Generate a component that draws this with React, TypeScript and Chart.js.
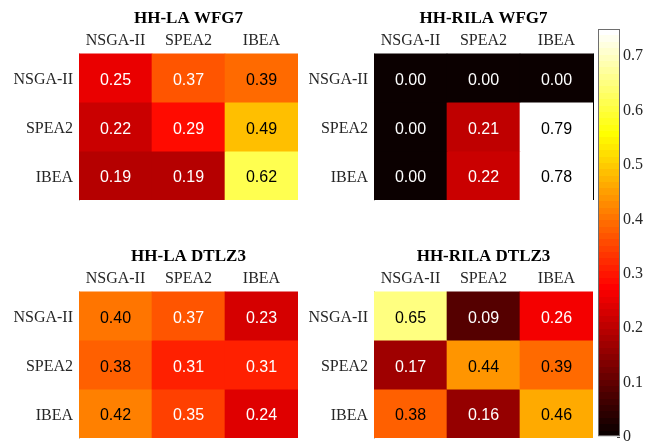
import React, { useEffect, useRef } from 'react';
import { Chart, registerables } from 'chart.js';

Chart.register(...registerables);

// ---------- data ----------
const methods = ['NSGA-II', 'SPEA2', 'IBEA'];
const colorbarTicks = [0, 0.1, 0.2, 0.3, 0.4, 0.5, 0.6, 0.7];
const colorMin = 0;
const colorMax = 0.75;

const laWfg7 = [
  [0.25, 0.37, 0.39],
  [0.22, 0.29, 0.49],
  [0.19, 0.19, 0.62],
];
const rilaWfg7 = [
  [0.0, 0.0, 0.0],
  [0.0, 0.21, 0.79],
  [0.0, 0.22, 0.78],
];
const laDtlz3 = [
  [0.4, 0.37, 0.23],
  [0.38, 0.31, 0.31],
  [0.42, 0.35, 0.24],
];
const rilaDtlz3 = [
  [0.65, 0.09, 0.26],
  [0.17, 0.44, 0.39],
  [0.38, 0.16, 0.46],
];

// ---------- colormap (MATLAB hot, 64 levels) ----------
const LEVELS = 64;
function hotIndex(i: number): string {
  const r = Math.min(1, (i + 1) / 24);
  const g = Math.max(0, Math.min(1, (i + 1 - 24) / 24));
  const b = Math.max(0, Math.min(1, (i + 1 - 48) / 16));
  return `rgb(${Math.round(r * 255)},${Math.round(g * 255)},${Math.round(b * 255)})`;
}
function hot(v: number): string {
  let i = Math.floor(((v - colorMin) / (colorMax - colorMin)) * LEVELS);
  i = Math.max(0, Math.min(LEVELS - 1, i));
  return hotIndex(i);
}

const SERIF = '"Liberation Serif", "Times New Roman", serif';
const SANS = '"Liberation Sans", Arial, sans-serif';

const cellText = {
  id: 'cellText',
  afterDatasetsDraw(chart: any) {
    const ctx = chart.ctx;
    ctx.save();
    ctx.font = `16px ${SANS}`;
    ctx.textAlign = 'center';
    ctx.textBaseline = 'middle';
    chart.data.datasets.forEach((ds: any, d: number) => {
      const meta = chart.getDatasetMeta(d);
      meta.data.forEach((bar: any, i: number) => {
        const v = ds.cellValues[i];
        const p = bar.getCenterPoint();
        ctx.fillStyle = v < 0.375 ? '#ffffff' : '#000000';
        ctx.fillText(v.toFixed(2), p.x, p.y + 2.5);
      });
    });
    ctx.restore();
  },
};

const frame = {
  id: 'frame',
  afterDraw(chart: any, _args: any, opts: any) {
    if (!opts || !opts.right) return;
    const { ctx, chartArea } = chart;
    ctx.save();
    ctx.strokeStyle = '#000';
    ctx.lineWidth = 1;
    ctx.beginPath();
    ctx.moveTo(Math.round(chartArea.right) + 0.5, chartArea.top);
    ctx.lineTo(Math.round(chartArea.right) + 0.5, chartArea.bottom);
    ctx.stroke();
    ctx.restore();
  },
};

type HeatProps = {
  title: string;
  values: number[][];
  left: number;
  top: number;
  rightFrame?: boolean;
};

const HW = 305;
const HH = 205;

function Heatmap({ title, values, left, top, rightFrame }: HeatProps) {
  const ref = useRef<HTMLCanvasElement>(null);
  useEffect(() => {
    const datasets = values.map((row, r) => ({
      data: row.map(() => [r, r + 1]),
      backgroundColor: row.map((v) => hot(v)),
      cellValues: row,
      borderWidth: 0,
      barPercentage: 1,
      categoryPercentage: 1,
      grouped: false,
    }));
    const chart = new Chart(ref.current as HTMLCanvasElement, {
      type: 'bar',
      data: { labels: methods, datasets: datasets as any },
      options: {
        animation: false,
        responsive: false,
        maintainAspectRatio: false,
        events: [],
        layout: { padding: { left: 0, right: 7, top: 0, bottom: 5 } },
        plugins: {
          legend: { display: false },
          tooltip: { enabled: false },
          title: {
            display: true,
            text: title,
            fullSize: false,
            color: '#000',
            font: { family: SERIF, size: 17, weight: 'bold' },
            padding: { top: 8, bottom: 2 },
          },
          frame: { right: !!rightFrame },
        } as any,
        scales: {
          x: {
            type: 'category',
            position: 'top',
            grid: { display: false, drawTicks: false },
            border: { display: false },
            ticks: {
              color: '#262626',
              font: { family: SERIF, size: 16 },
              padding: 3,
              maxRotation: 0,
              autoSkip: false,
            },
            afterFit: (s: any) => {
              s.height = 23;
              s.paddingLeft = 0;
              s.paddingRight = 0;
            },
          },
          y: {
            type: 'linear',
            min: 0,
            max: 3,
            reverse: true,
            z: 1,
            grid: { display: false, drawTicks: false },
            border: { display: true, color: '#c8c8c8', width: 1 },
            afterBuildTicks: (s: any) => {
              s.ticks = methods.map((_, i) => ({ value: i + 0.55 }));
            },
            ticks: {
              color: '#262626',
              font: { family: SERIF, size: 16 },
              padding: 6,
              autoSkip: false,
              callback: (_v: any, i: number) => methods[i],
            },
            afterFit: (s: any) => {
              s.width = 79;
              s.paddingTop = 0;
              s.paddingBottom = 0;
            },
          },
        } as any,
      },
      plugins: [cellText, frame],
    });
    return () => chart.destroy();
  }, []);
  return (
    <canvas
      ref={ref}
      width={HW}
      height={HH}
      style={{ position: 'absolute', left, top, width: HW, height: HH }}
    />
  );
}

function Colorbar() {
  const ref = useRef<HTMLCanvasElement>(null);
  useEffect(() => {
    const chart = new Chart(ref.current as HTMLCanvasElement, {
      type: 'bar',
      data: {
        labels: [''],
        datasets: [
          {
            data: [[colorMin, colorMax]] as any,
            backgroundColor: (c: any) => {
              const ch = c.chart;
              const ys = ch.scales.y;
              if (!ch.chartArea || !ys) return '#fff';
              const g = ch.ctx.createLinearGradient(
                0,
                ys.getPixelForValue(colorMin),
                0,
                ys.getPixelForValue(colorMax)
              );
              for (let i = 0; i < LEVELS; i++) {
                const col = hotIndex(i);
                g.addColorStop(i / LEVELS, col);
                g.addColorStop((i + 1) / LEVELS, col);
              }
              return g;
            },
            borderColor: '#6e6e6e',
            borderWidth: 1,
            borderSkipped: false,
            barPercentage: 1,
            categoryPercentage: 1,
            inflateAmount: 0,
          } as any,
        ],
      },
      options: {
        animation: false,
        responsive: false,
        maintainAspectRatio: false,
        events: [],
        layout: { padding: { left: 38, right: 0, top: 29, bottom: 4 } },
        plugins: { legend: { display: false }, tooltip: { enabled: false } },
        scales: {
          x: { display: false },
          y: {
            position: 'right',
            min: colorMin,
            max: colorMax,
            grid: { drawOnChartArea: false, drawTicks: true, tickLength: -3, color: '#444' },
            border: { display: false },
            afterBuildTicks: (s: any) => {
              s.ticks = colorbarTicks.map((v) => ({ value: v }));
            },
            ticks: {
              color: '#262626',
              font: { family: SERIF, size: 16 },
              padding: 6,
              autoSkip: false,
              callback: (v: any) => (v === 0 ? '0' : Number(v).toFixed(1)),
            },
            afterFit: (s: any) => {
              s.width = 30;
              s.paddingTop = 0;
              s.paddingBottom = 0;
            },
          },
        } as any,
      },
    });
    return () => chart.destroy();
  }, []);
  return (
    <canvas
      ref={ref}
      width={90}
      height={441}
      style={{ position: 'absolute', left: 560, top: 0, width: 90, height: 441 }}
    />
  );
}

export default function App() {
  return (
    <div
      style={{
        position: 'absolute',
        left: 0,
        top: 0,
        width: 650,
        height: 441,
        background: '#fff',
        overflow: 'hidden',
      }}
    >
      <Heatmap title="HH-LA WFG7" values={laWfg7} left={0} top={0} />
      <Heatmap title="HH-RILA WFG7" values={rilaWfg7} left={295} top={0} rightFrame />
      <Heatmap title="HH-LA DTLZ3" values={laDtlz3} left={0} top={238} />
      <Heatmap title="HH-RILA DTLZ3" values={rilaDtlz3} left={295} top={238} />
      <Colorbar />
    </div>
  );
}
